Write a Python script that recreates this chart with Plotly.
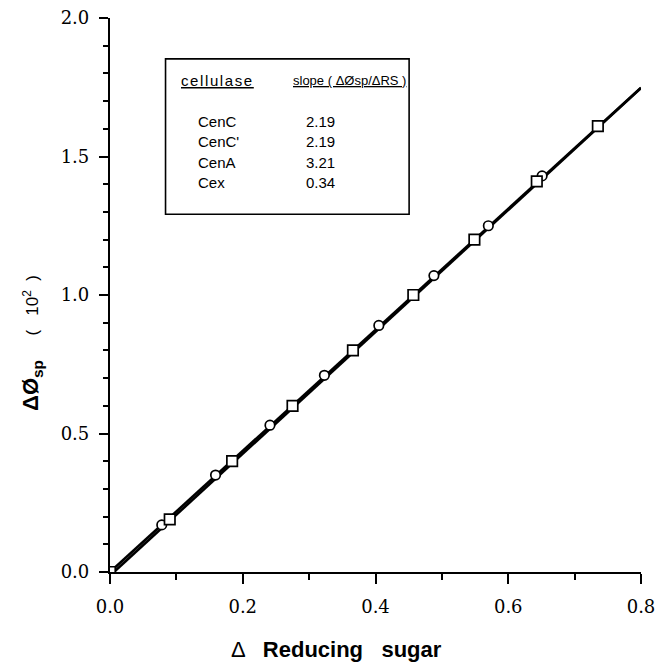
import plotly.graph_objects as go
import numpy as np

# ---- data ----
square_x = [0.0, 0.090, 0.184, 0.275, 0.366, 0.457, 0.549, 0.643, 0.735]
square_y = [0.0, 0.19, 0.40, 0.60, 0.80, 1.00, 1.20, 1.41, 1.61]
circle_x = [0.078, 0.159, 0.241, 0.323, 0.405, 0.488, 0.570, 0.651]
circle_y = [0.17, 0.35, 0.53, 0.71, 0.89, 1.07, 1.25, 1.43]
fit_slopes = [2.185, 2.20]
fit_intercepts = [0.0, -0.013]
x_max = 0.8

table_names = ["CenC", "CenC'", "CenA", "Cex"]
table_slopes = ["2.19", "2.19", "3.21", "0.34"]

fig = go.Figure()

for m, b in zip(fit_slopes, fit_intercepts):
    x0 = max(0.0, -b / m)
    xs = np.array([x0, x_max])
    fig.add_trace(go.Scatter(x=xs, y=m * xs + b, mode="lines",
                             line=dict(color="black", width=2.6),
                             hoverinfo="skip", showlegend=False))

fig.add_trace(go.Scatter(x=circle_x, y=circle_y, mode="markers",
                         marker=dict(symbol="circle", size=9.5, color="white",
                                     line=dict(color="black", width=1.7)),
                         showlegend=False))
fig.add_trace(go.Scatter(x=square_x, y=square_y, mode="markers",
                         marker=dict(symbol="square", size=10.5, color="white",
                                     line=dict(color="black", width=1.7)),
                         showlegend=False))

L, R, T, B = 110, 7, 16, 96
W, H = 662, 668
pw, ph = W - L - R, H - T - B

def px(x):
    return (x - L) / pw

def py(y):
    return (H - B - y) / ph

tickfont = dict(family="DejaVu Serif", size=18, color="black")

fig.update_layout(
    width=W, height=H,
    margin=dict(l=L, r=R, t=T, b=B),
    paper_bgcolor="white", plot_bgcolor="white",
    showlegend=False,
    xaxis=dict(range=[0, 0.8], tickvals=[0, 0.2, 0.4, 0.6, 0.8],
               ticktext=["0.0", "0.2", "0.4", "0.6", "0.8"],
               ticks="outside", ticklen=10, tickwidth=2, tickcolor="black",
               minor=dict(dtick=0.1, ticks="outside", ticklen=6, tickwidth=1.5, tickcolor="black"),
               showline=True, linecolor="black", linewidth=2.2,
               showgrid=False, zeroline=False, tickfont=tickfont,
               ticklabelstandoff=7, ticklabeloverflow="allow"),
    yaxis=dict(range=[0, 2.0], tickvals=[0, 0.5, 1.0, 1.5, 2.0],
               ticktext=["0.0", "0.5", "1.0", "1.5", "2.0"],
               ticks="outside", ticklen=9, tickwidth=2, tickcolor="black",
               minor=dict(dtick=0.1, ticks="outside", ticklen=5, tickwidth=1.5, tickcolor="black"),
               showline=True, linecolor="black", linewidth=2.2,
               showgrid=False, zeroline=False, tickfont=tickfont,
               ticklabelstandoff=6, ticklabeloverflow="allow"),
)

# axis titles
fig.add_annotation(xref="paper", yref="paper", x=px(342), y=py(650),
                   text="Δ   <b>Reducing   sugar</b>", showarrow=False,
                   font=dict(family="Liberation Sans", size=22, color="black"),
                   xanchor="center", yanchor="middle")
fig.add_annotation(xref="paper", yref="paper", x=px(30), y=py(342),
                   text="<b>ΔØ<sub>sp</sub></b>    <span style='font-size:17px'>(   10<sup>2</sup>  )</span>",
                   textangle=-90, showarrow=False,
                   font=dict(family="Liberation Sans", size=22, color="black"),
                   xanchor="center", yanchor="middle")

# inset table box
fig.add_shape(type="rect", xref="paper", yref="paper",
              x0=px(167), x1=px(417), y0=py(213), y1=py(57),
              line=dict(color="black", width=1.6), fillcolor="white", layer="above")

tfont = dict(family="Liberation Sans", size=15, color="black")
fig.add_annotation(xref="paper", yref="paper", x=px(181), y=py(79),
                   text="<u><span style='letter-spacing:1.6px'>cellulase</span></u>",
                   showarrow=False, font=dict(family="Liberation Sans", size=15, color="black"),
                   xanchor="left", yanchor="middle")
fig.add_annotation(xref="paper", yref="paper", x=px(296), y=py(79),
                   text="<u>slope ( ΔØsp/ΔRS )</u>", showarrow=False,
                   font=dict(family="Liberation Sans", size=13, color="black"),
                   xanchor="left", yanchor="middle")
row_y = [120, 140, 161, 181]
for name, val, ry in zip(table_names, table_slopes, row_y):
    fig.add_annotation(xref="paper", yref="paper", x=px(198), y=py(ry),
                       text=name, showarrow=False, font=tfont,
                       xanchor="left", yanchor="middle")
    fig.add_annotation(xref="paper", yref="paper", x=px(326), y=py(ry),
                       text=val, showarrow=False, font=tfont,
                       xanchor="center", yanchor="middle")

fig.write_html("out.html", config={"displayModeBar": False},
               post_script="document.body.style.margin='0';")
